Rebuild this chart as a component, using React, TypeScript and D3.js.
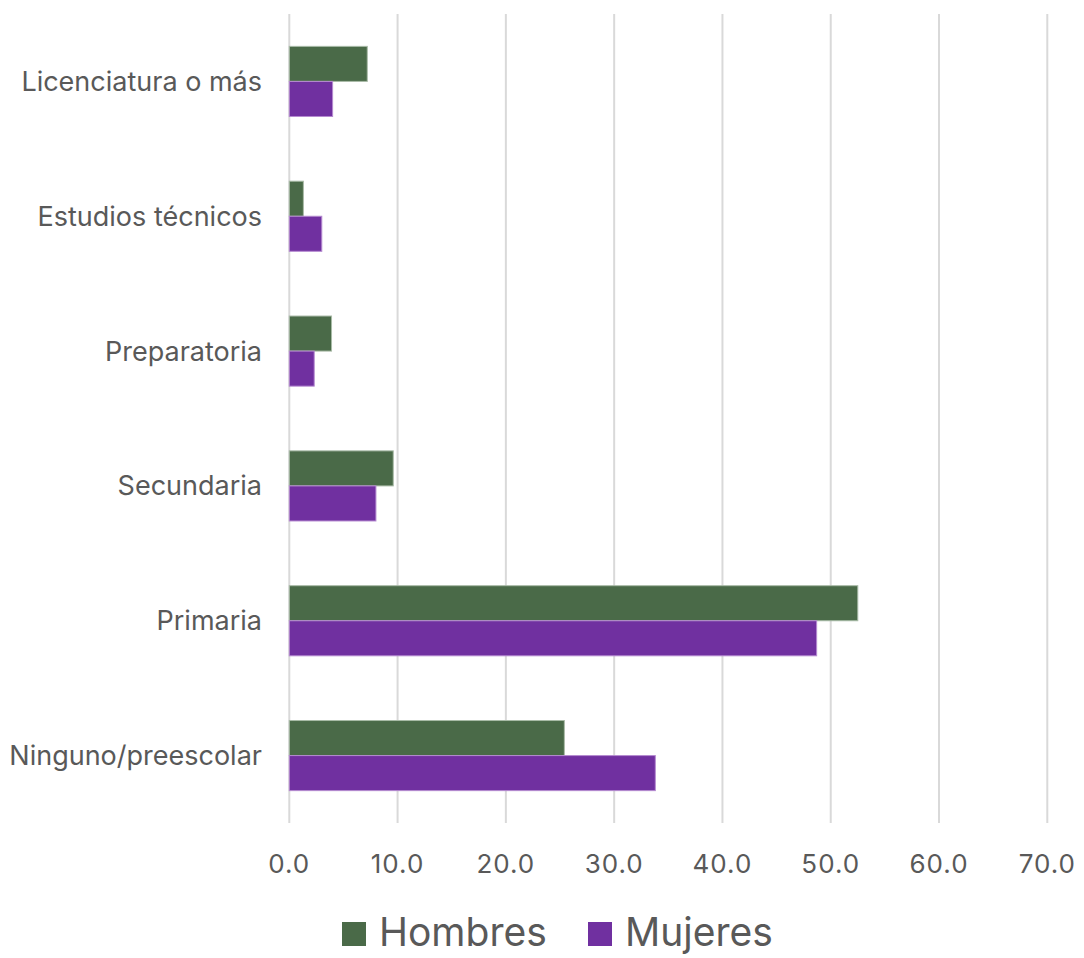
import React from "react";
import * as d3 from "d3";

const categories = ["Licenciatura o más", "Estudios técnicos", "Preparatoria", "Secundaria", "Primaria", "Ninguno/preescolar"];
const hombres = [7.2, 1.3, 3.9, 9.6, 52.5, 25.4];
const mujeres = [4.0, 3.0, 2.3, 8.0, 48.7, 33.8];
const ticks = [0, 10, 20, 30, 40, 50, 60, 70];
const seriesNames = ["Hombres", "Mujeres"];
const colors = ["#4a6a48", "#7030a0"];
const strokes = ["#a9bba7", "#b58ad0"];

export default function App() {
  const W = 1084, H = 958;
  const left = 289.3, right = 1047.3, top = 14, bottom = 823;
  const x = d3.scaleLinear().domain([0, 70]).range([left, right]);
  const y = d3.scaleBand().domain(categories).range([top, bottom]).paddingInner(0.48).paddingOuter(0.24);
  const sub = d3.scaleBand().domain(seriesNames).range([0, y.bandwidth()]);
  const font = "Inter, 'Noto Sans', sans-serif";
  const series = [hombres, mujeres];
  return (
    <svg width={W} height={H} style={{ position: "absolute", left: 0, top: 0 }}>
      <rect width={W} height={H} fill="#fff" />
      {ticks.map((t) => (
        <line key={t} x1={x(t)} x2={x(t)} y1={top} y2={bottom} stroke="#d9d9d9" strokeWidth={2} />
      ))}
      {categories.map((c, i) => (
        <g key={c}>
          {series.map((s, j) => (
            <rect key={j} x={x(0)} y={(y(c) as number) + (sub(seriesNames[j]) as number)} width={x(s[i]) - x(0)} height={sub.bandwidth()} fill={colors[j]} stroke={strokes[j]} strokeWidth={1} />
          ))}
          <text x={262} y={(y(c) as number) + y.bandwidth() / 2} dy="0.35em" textAnchor="end" fontFamily={font} fontSize={27} fill="#595959">{c}</text>
        </g>
      ))}
      {ticks.map((t) => (
        <text key={t} x={x(t)} y={873} textAnchor="middle" fontFamily={font} fontSize={26} letterSpacing={1} fill="#595959">{t.toFixed(1)}</text>
      ))}
      {seriesNames.map((n, j) => {
        const lx = j === 0 ? 342 : 588;
        return (
          <g key={n}>
            <rect x={lx} y={922} width={24} height={24} fill={colors[j]} />
            <text x={lx + 37} y={946} fontFamily={font} fontSize={39} fill="#595959">{n}</text>
          </g>
        );
      })}
    </svg>
  );
}
